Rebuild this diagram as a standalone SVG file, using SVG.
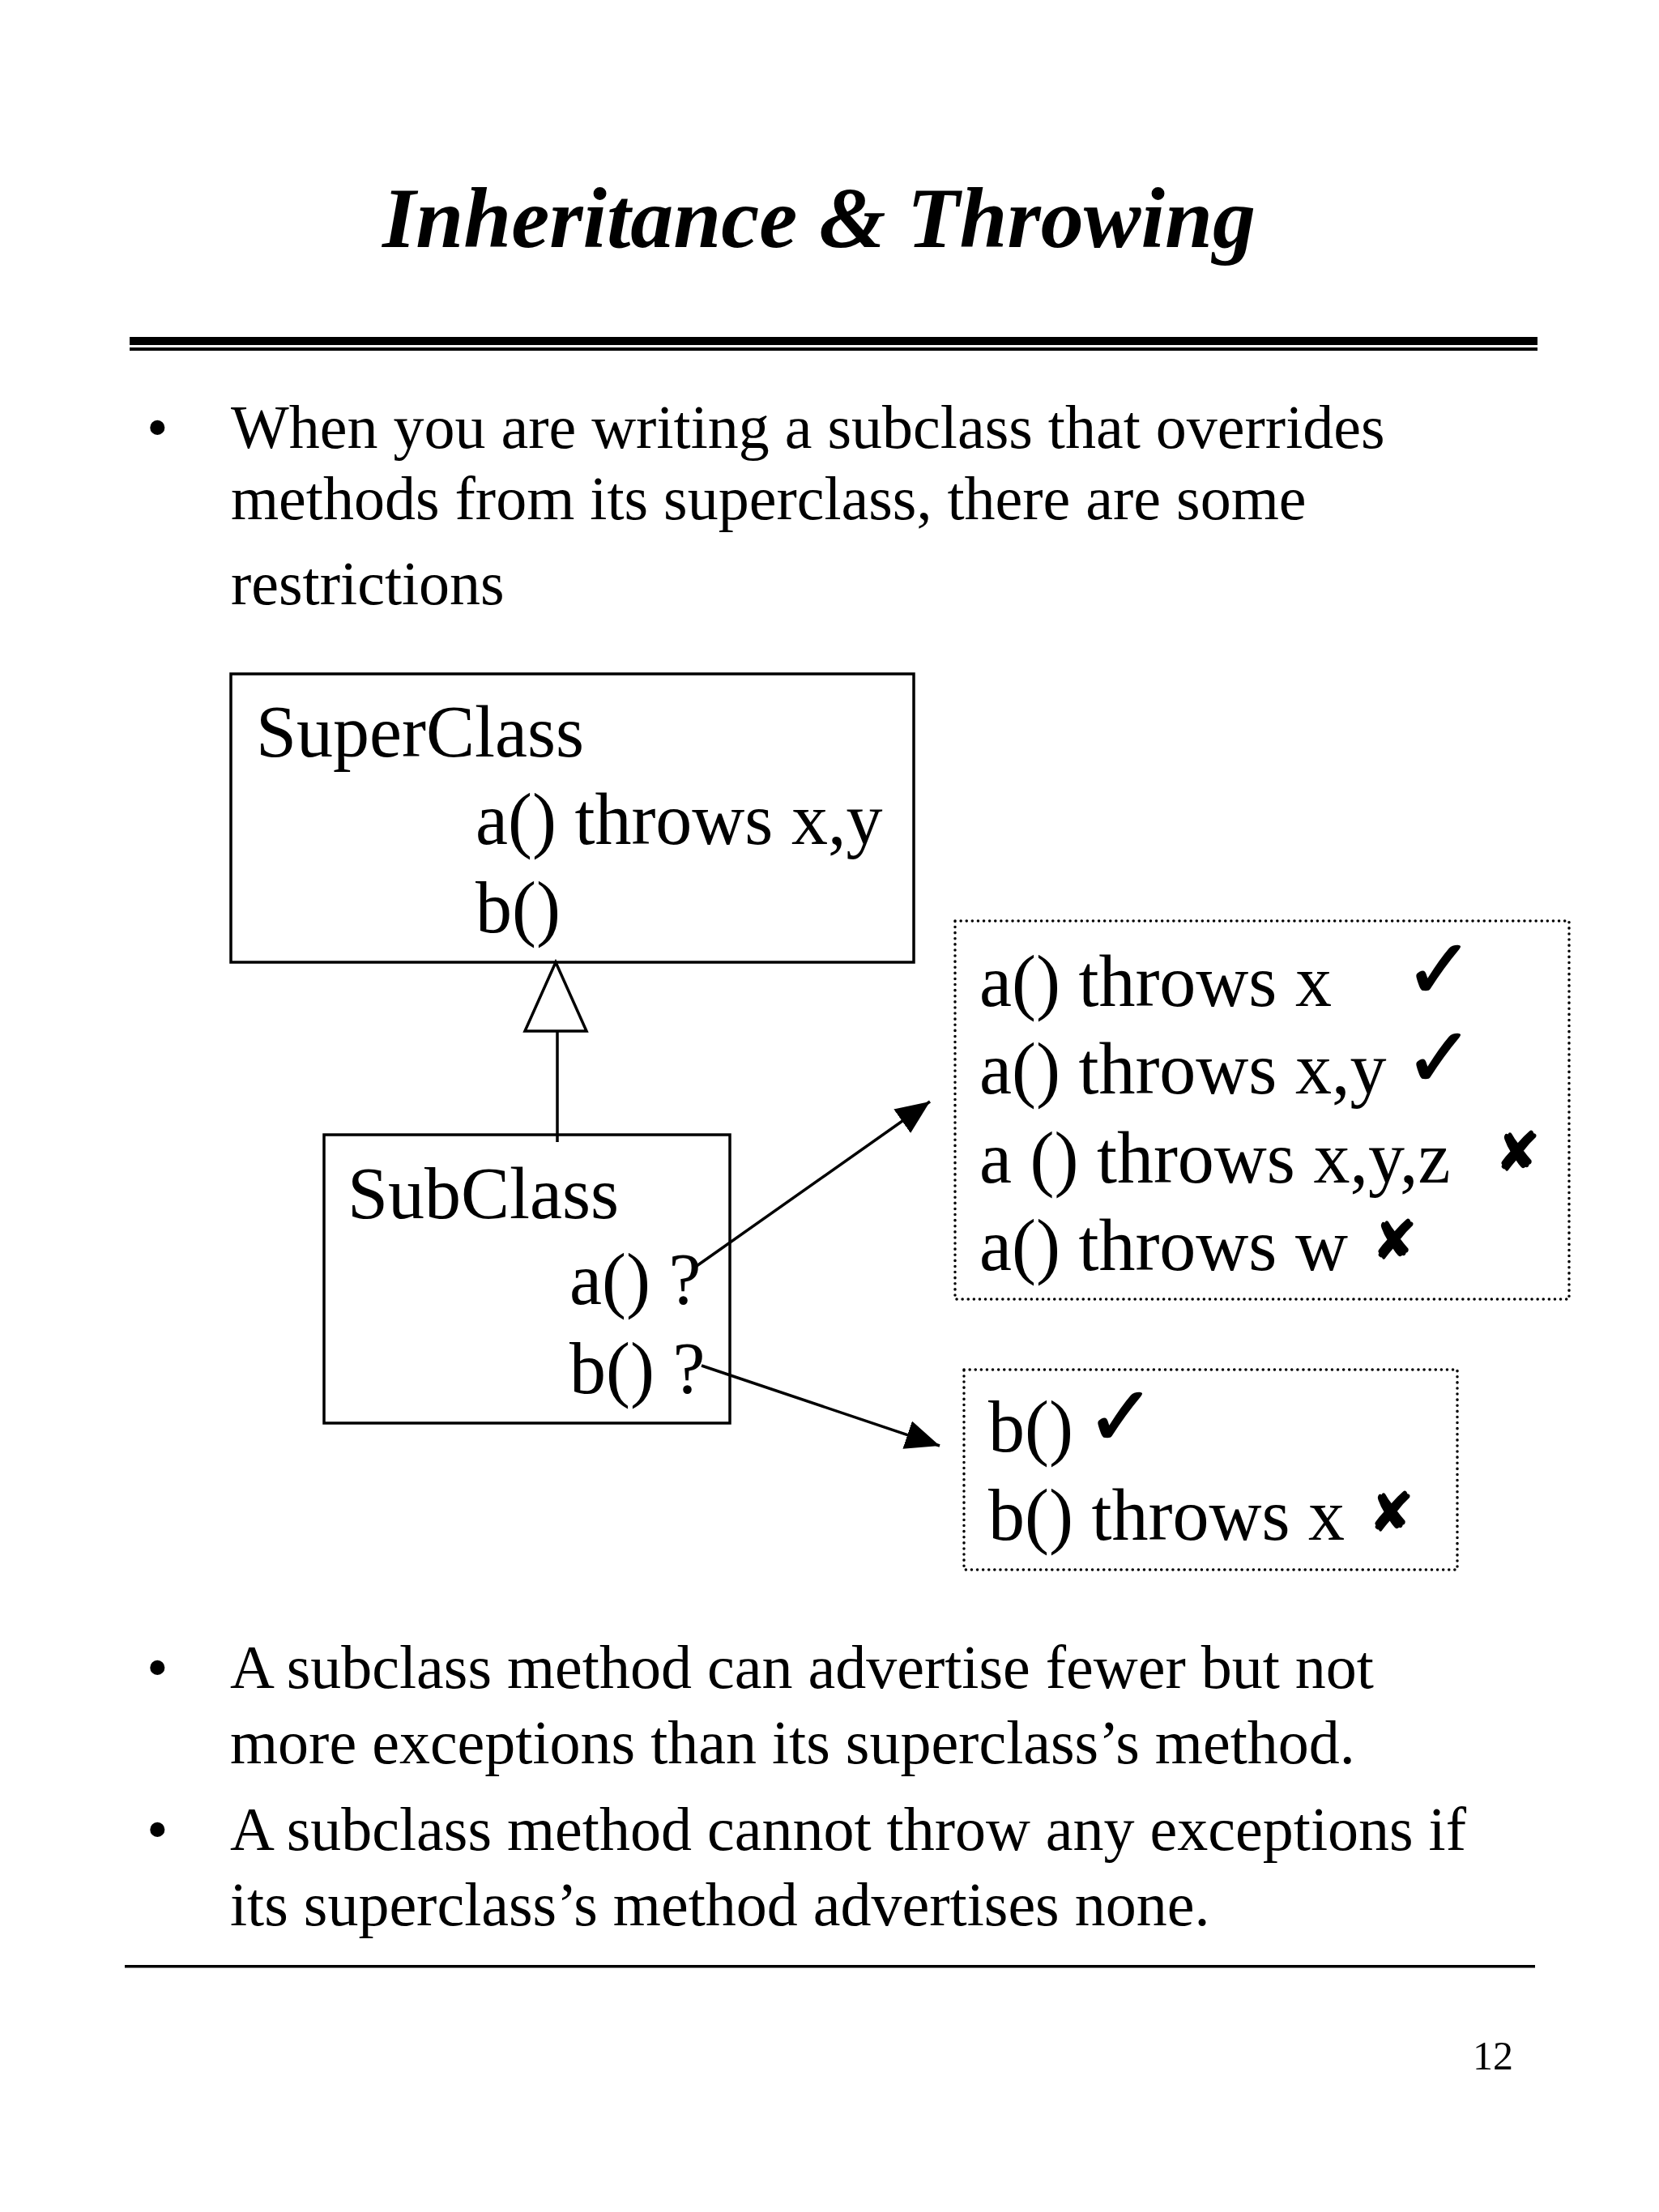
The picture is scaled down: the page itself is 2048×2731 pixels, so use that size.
<svg xmlns="http://www.w3.org/2000/svg" width="2048" height="2731" viewBox="0 0 2048 2731">
<style>
  .t { font-family: "Liberation Serif", "Times New Roman", serif; fill: #000; }
  .body { font-size: 76px; }
  .node { font-size: 90px; }
  .box { fill: none; stroke: #000; stroke-width: 3.5; }
  .dot { fill: none; stroke: #000; stroke-width: 3.5; stroke-linecap: round; stroke-dasharray: 0.1 7; }
  .sym { font-family: "DejaVu Sans", sans-serif; fill: #000; stroke: #000; }
  .ok { font-size: 102px; stroke-width: 2; }
  .no { font-size: 66px; stroke-width: 1.5; }
  .conn { fill: none; stroke: #000; stroke-width: 3.5; }
</style>
<defs>
  <marker id="arrow" viewBox="0 0 42 36" refX="42" refY="18" markerWidth="42" markerHeight="36" markerUnits="userSpaceOnUse" orient="auto">
    <path d="M0,0 L42,18 L0,36 z" fill="#000"/>
  </marker>
</defs>
<rect x="0" y="0" width="2048" height="2731" fill="#fff"/>

<g id="title">
  <text class="t" x="472" y="305" font-size="106" font-weight="bold" font-style="italic">Inheritance &amp; Throwing</text>
  <rect x="160" y="416" width="1738" height="10" fill="#000"/>
  <rect x="160" y="429" width="1738" height="4" fill="#000"/>
</g>

<g id="intro">
  <text class="t body" x="181" y="553">•</text>
  <text class="t body" x="285" y="553">When you are writing a subclass that overrides</text>
  <text class="t body" x="285" y="641">methods from its superclass, there are some</text>
  <text class="t body" x="285" y="746">restrictions</text>
</g>

<g id="superclass">
  <rect class="box" x="285" y="832" width="843" height="356"/>
  <text class="t node" x="316" y="934">SuperClass</text>
  <text class="t node" x="587" y="1042">a() throws x,y</text>
  <text class="t node" x="587" y="1151">b()</text>
</g>

<g id="subclass">
  <rect class="box" x="400" y="1401" width="501" height="356"/>
  <text class="t node" x="429" y="1504">SubClass</text>
  <text class="t node" x="703" y="1610">a() ?</text>
  <text class="t node" x="703" y="1720">b() ?</text>
</g>

<g id="a-options">
  <rect class="dot" x="1179" y="1137" width="758" height="467"/>
  <text class="t node" x="1209" y="1242">a() throws x</text>
  <text class="sym ok" x="1734" y="1232">✓</text>
  <text class="t node" x="1209" y="1350">a() throws x,y</text>
  <text class="sym ok" x="1734" y="1341">✓</text>
  <text class="t node" x="1209" y="1460">a () throws x,y,z</text>
  <text class="sym no" x="1846" y="1445">✘</text>
  <text class="t node" x="1209" y="1568">a() throws w</text>
  <text class="sym no" x="1694" y="1554">✘</text>
</g>

<g id="b-options">
  <rect class="dot" x="1190" y="1691" width="609" height="247"/>
  <text class="t node" x="1220" y="1792">b()</text>
  <text class="sym ok" x="1341" y="1784">✓</text>
  <text class="t node" x="1220" y="1901">b() throws x</text>
  <text class="sym no" x="1690" y="1890">✘</text>
</g>

<g id="connectors">
  <path class="conn" d="M688,1410 L688,1273"/>
  <path class="conn" d="M686,1188 L648,1273 L724,1273 z" fill="#fff"/>
  <path class="conn" d="M860,1563 L1148,1360" marker-end="url(#arrow)"/>
  <path class="conn" d="M866,1686 L1160,1785" marker-end="url(#arrow)"/>
</g>

<g id="rules">
  <text class="t body" x="181" y="2084">•</text>
  <text class="t body" x="284" y="2084">A subclass method can advertise fewer but not</text>
  <text class="t body" x="284" y="2177">more exceptions than its superclass’s method.</text>
  <text class="t body" x="181" y="2284">•</text>
  <text class="t body" x="284" y="2284">A subclass method cannot throw any exceptions if</text>
  <text class="t body" x="284" y="2377">its superclass’s method advertises none.</text>
  <rect x="154" y="2426" width="1741" height="3.5" fill="#000"/>
</g>

<g id="page-number">
  <text class="t" x="1818" y="2555" font-size="50">12</text>
</g>
</svg>
